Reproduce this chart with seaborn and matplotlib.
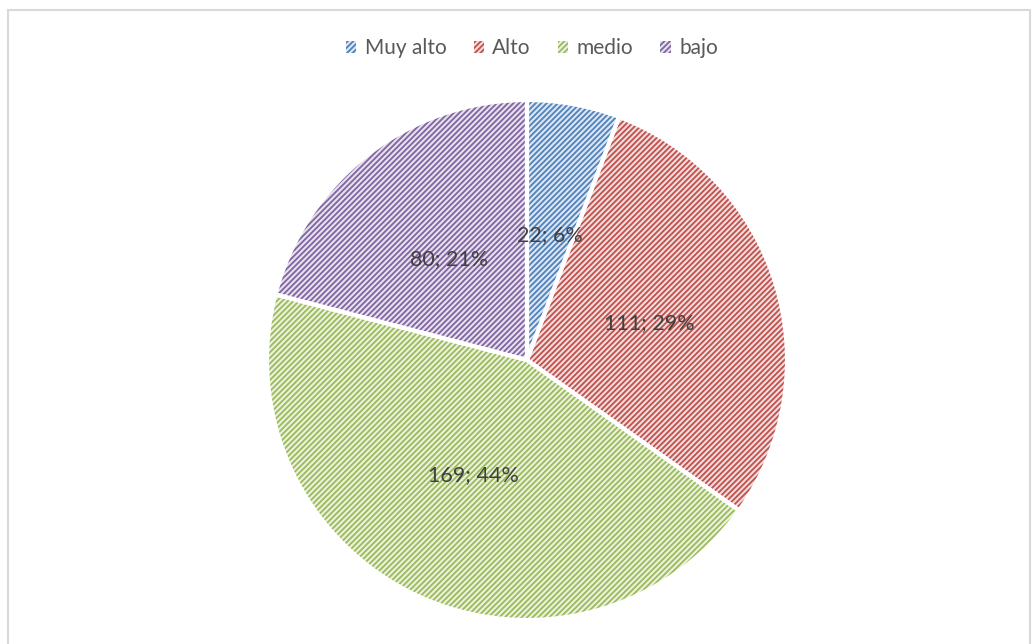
import matplotlib
matplotlib.use("Agg")
import matplotlib.pyplot as plt
from matplotlib.patches import Patch, Rectangle
import seaborn as sns

categorias = ["Muy alto", "Alto", "medio", "bajo"]
valores = [22, 111, 169, 80]
colores = ["#4F81BD", "#C0504D", "#9BBB59", "#8064A2"]
fondos = ["#DCE6F2", "#F2DCDB", "#EBF1DE", "#E6E0EC"]

sns.set_theme(style="white")
plt.rcParams["font.family"] = ["Lato", "DejaVu Sans"]
plt.rcParams["hatch.linewidth"] = 1.3

fig = plt.figure(figsize=(10.35, 6.44), dpi=100)
W, H = 1035, 644
cx, cy, r = 527, 360, 260
ax = fig.add_axes([(cx - r) / W, (H - cy - r) / H, 2 * r / W, 2 * r / H])

total = sum(valores)


def etiqueta(p):
    v = int(round(p * total / 100))
    return f"{v}; {round(p):.0f}%"


wedges, textos, autotextos = ax.pie(
    valores, colors=fondos, startangle=90, counterclock=False,
    autopct=etiqueta, pctdistance=0.49,
    textprops={"fontsize": 15.5, "color": "#404040"})
for w, c in zip(wedges, colores):
    w.set_edgecolor(c)
    w.set_hatch("//////")
    w.set_linewidth(0)

# white separators on top
borde, _ = ax.pie(valores, colors=["none"] * 4, startangle=90, counterclock=False,
                  wedgeprops={"edgecolor": "white", "linewidth": 3})
for t in autotextos:
    t.set_zorder(5)
ax.set_xlim(-1.0, 1.0)
ax.set_ylim(-1.0, 1.0)

handles = [Patch(facecolor=f, edgecolor=c, hatch="//////", linewidth=0)
           for f, c in zip(fondos, colores)]
fig.legend(handles, categorias, loc="center", bbox_to_anchor=(532 / W, 1 - 48 / H),
           ncol=4, frameon=False, fontsize=15, handlelength=0.5, handleheight=0.5,
           handletextpad=0.4, columnspacing=1.3, labelcolor="#595959")

fig.patches.append(Rectangle((8 / W, -0.1), (1030 - 8) / W, 1.1 - 10 / H,
                             transform=fig.transFigure, fill=False,
                             edgecolor="#D9D9D9", linewidth=1.5))

fig.savefig("out.png", dpi=100)
